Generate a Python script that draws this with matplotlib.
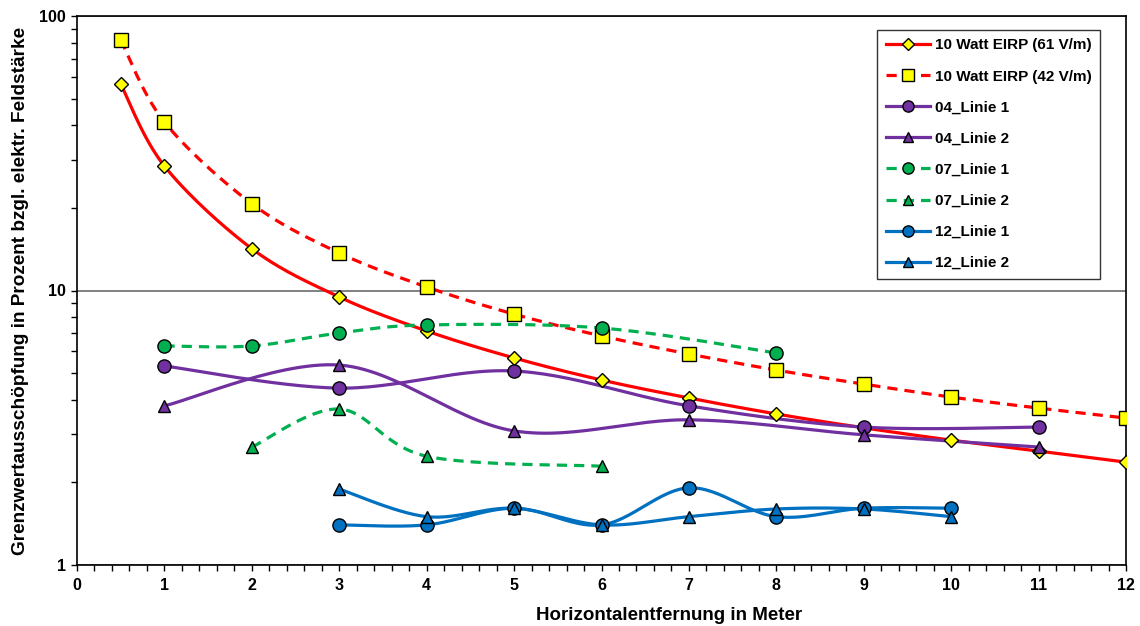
import numpy as np
import matplotlib
matplotlib.use("Agg")
import matplotlib.pyplot as plt
from matplotlib.ticker import FixedLocator, NullFormatter, LogLocator

# ---------------- data ----------------
x_ref = [0.5, 1, 2, 3, 4, 5, 6, 7, 8, 9, 10, 11, 12]
y_61 = [56.5, 28.4, 14.2, 9.47, 7.12, 5.68, 4.72, 4.06, 3.55, 3.16, 2.85, 2.60, 2.37]
y_42 = [81.8, 41.1, 20.7, 13.7, 10.3, 8.2, 6.83, 5.87, 5.13, 4.56, 4.09, 3.73, 3.43]

x_04 = [1, 3, 5, 7, 9, 11]
y_04_1 = [5.31, 4.41, 5.09, 3.80, 3.18, 3.18]
y_04_2 = [3.80, 5.35, 3.08, 3.38, 2.98, 2.69]

x_07_1 = [1, 2, 3, 4, 6, 8]
y_07_1 = [6.28, 6.28, 7.00, 7.49, 7.30, 5.92]
x_07_2 = [2, 3, 4, 6]
y_07_2 = [2.69, 3.70, 2.49, 2.29]

x_12 = [3, 4, 5, 6, 7, 8, 9, 10]
y_12_1 = [1.40, 1.40, 1.61, 1.40, 1.91, 1.50, 1.61, 1.61]
y_12_2 = [1.89, 1.50, 1.61, 1.40, 1.50, 1.60, 1.60, 1.50]

labels = ["10 Watt EIRP (61 V/m)", "10 Watt EIRP (42 V/m)", "04_Linie 1", "04_Linie 2",
          "07_Linie 1", "07_Linie 2", "12_Linie 1", "12_Linie 2"]

RED = "#FF0000"
PURPLE = "#7030A0"
GREEN = "#00B050"
BLUE = "#0070C0"
YELLOW = "#FFFF00"


def smooth(xs, ys, n=30):
    """Catmull-Rom (Excel-like smoothing) in x / log10(y) space."""
    xs = np.asarray(xs, float)
    ly = np.log10(np.asarray(ys, float))
    P = np.column_stack([xs, ly])
    if len(P) < 3:
        return xs, np.asarray(ys, float)
    ext = np.vstack([P[0], P, P[-1]])
    out = []
    t = np.linspace(0, 1, n)[:, None]
    for i in range(1, len(ext) - 2):
        p0, p1, p2, p3 = ext[i - 1], ext[i], ext[i + 1], ext[i + 2]
        c1 = p1 + (p2 - p0) / 6.0
        c2 = p2 - (p3 - p1) / 6.0
        seg = ((1 - t) ** 3) * p1 + 3 * ((1 - t) ** 2) * t * c1 + 3 * (1 - t) * t ** 2 * c2 + t ** 3 * p2
        out.append(seg if i == 1 else seg[1:])
    out = np.vstack(out)
    return out[:, 0], 10 ** out[:, 1]


plt.rcParams['font.family'] = ['Liberation Sans', 'DejaVu Sans']
plt.rcParams['font.weight'] = 'bold'

fig = plt.figure(figsize=(11.4, 6.26), dpi=100)
ax = fig.add_axes([77 / 1140, 1 - 565 / 626, (1126 - 77) / 1140, (565 - 16) / 626])

lw = 2.3
dash = (0, (3.2, 2.2))
series = [
    (x_ref, y_61, RED, '-', 'D', YELLOW, 7.5),
    (x_ref, y_42, RED, dash, 's', YELLOW, 10),
    (x_04, y_04_1, PURPLE, '-', 'o', PURPLE, 9.5),
    (x_04, y_04_2, PURPLE, '-', '^', PURPLE, 9),
    (x_07_1, y_07_1, GREEN, dash, 'o', GREEN, 9.5),
    (x_07_2, y_07_2, GREEN, dash, '^', GREEN, 9),
    (x_12, y_12_1, BLUE, '-', 'o', BLUE, 9.5),
    (x_12, y_12_2, BLUE, '-', '^', BLUE, 9),
]

handles = []
for (xs, ys, col, ls, mk, mfc, ms), lab in zip(series, labels):
    sx, sy = smooth(xs, ys)
    ax.plot(sx, sy, color=col, linestyle=ls, lw=lw, solid_capstyle='butt', zorder=2)
    ax.plot(xs, ys, linestyle='none', marker=mk, markersize=ms, markerfacecolor=mfc,
            markeredgecolor='black', markeredgewidth=1.0, zorder=3)
    h, = ax.plot([], [], color=col, linestyle=ls, lw=lw, marker=mk, markersize=ms * 0.85,
                 markerfacecolor=mfc, markeredgecolor='black', markeredgewidth=1.0)
    handles.append(h)

ax.set_yscale('log')
ax.set_xlim(0, 12)
ax.set_ylim(1, 100)
ax.set_xticks(range(0, 13))
ax.xaxis.set_minor_locator(FixedLocator(np.arange(0, 12.01, 0.2)))
ax.yaxis.set_major_locator(FixedLocator([1, 10, 100]))
ax.yaxis.set_major_formatter(matplotlib.ticker.FuncFormatter(lambda v, p: f"{v:g}"))
ax.yaxis.set_minor_locator(LogLocator(base=10, subs=np.arange(2, 10)))
ax.yaxis.set_minor_formatter(NullFormatter())

ax.tick_params(axis='both', which='both', direction='out', length=4, width=1, color='black')
ax.tick_params(axis='x', which='major', labelsize=11.5, pad=5)
ax.tick_params(axis='y', which='major', labelsize=11.5, pad=4)
for lab in ax.get_xticklabels() + ax.get_yticklabels():
    lab.set_fontweight('bold')

ax.grid(True, which='major', axis='y', color='#808080', lw=1.4, zorder=1)
for s in ax.spines.values():
    s.set_color('black')
    s.set_linewidth(1.2)

ax.set_xlabel("Horizontalentfernung in Meter", fontsize=13.5, fontweight='bold', labelpad=10)
ax.xaxis.set_label_coords((669 - 77) / 1049, -0.077, transform=ax.transAxes)
ax.xaxis.label.set_verticalalignment('top')
ax.set_ylabel("Grenzwertausschöpfung in Prozent bzgl. elektr. Feldstärke", fontsize=13.7,
              fontweight='bold', labelpad=7)

leg = ax.legend(handles, labels, loc='upper right', bbox_to_anchor=(0.975, 0.9745),
                borderaxespad=0, frameon=True, fancybox=False, edgecolor='black',
                handlelength=2.9, labelspacing=1.12, borderpad=0.55, handletextpad=0.3,
                prop={'weight': 'bold', 'size': 11})
leg.get_frame().set_linewidth(1.0)

fig.savefig("out.png", dpi=100, facecolor='white')
